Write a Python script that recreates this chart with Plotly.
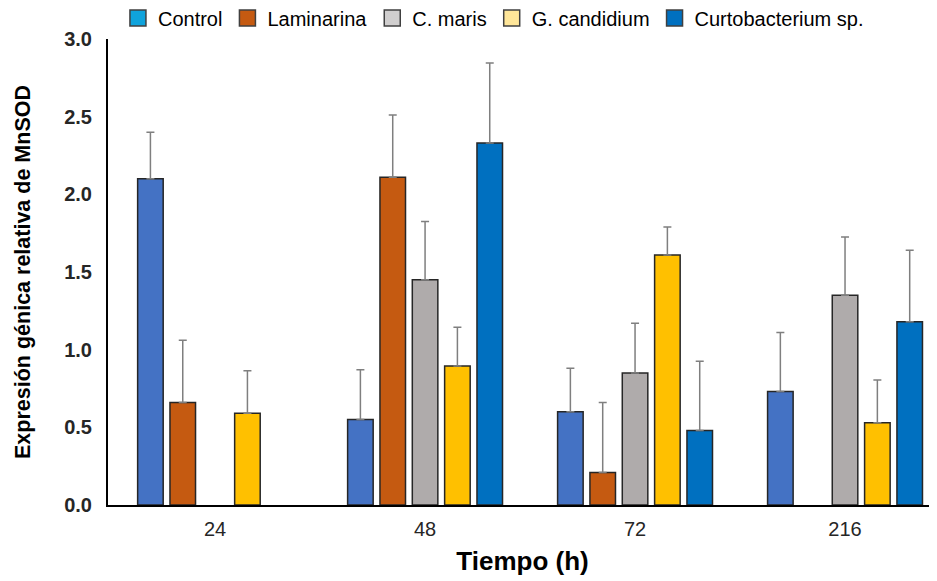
import plotly.graph_objects as go

categories = ["24", "48", "72", "216"]
series_names = ["Control", "Laminarina", "C. maris", "G. candidium", "Curtobacterium sp."]
control = [2.10, 0.55, 0.60, 0.73]
laminarina = [0.66, 2.11, 0.21, None]
c_maris = [None, 1.45, 0.85, 1.35]
g_candidium = [0.59, 0.895, 1.61, 0.53]
curtobacterium = [None, 2.33, 0.48, 1.18]
control_err = [0.30, 0.32, 0.28, 0.38]
laminarina_err = [0.40, 0.40, 0.45, None]
c_maris_err = [None, 0.375, 0.32, 0.375]
g_candidium_err = [0.275, 0.25, 0.18, 0.275]
curtobacterium_err = [None, 0.515, 0.445, 0.46]

values = [control, laminarina, c_maris, g_candidium, curtobacterium]
errors = [control_err, laminarina_err, c_maris_err, g_candidium_err, curtobacterium_err]
bar_colors = ["#4472C4", "#C55A11", "#AFABAB", "#FFC000", "#0070C0"]
legend_colors = ["#0FA3DC", "#C55A11", "#D0CECE", "#FFE699", "#0070C0"]

fig = go.Figure()
for name, vals, errs, col in zip(series_names, values, errors, bar_colors):
    fig.add_trace(go.Bar(
        x=categories, y=vals, name=name, showlegend=False,
        marker=dict(color=col, line=dict(color="#262626", width=1.5)),
        error_y=dict(type="data", symmetric=False,
                     array=[e if e is not None else 0 for e in errs],
                     arrayminus=[0] * len(errs),
                     color="#7F7F7F", thickness=1.5, width=4),
    ))
# legend entries (the reference legend uses its own swatch colours)
for name, col in zip(series_names, legend_colors):
    fig.add_trace(go.Scatter(
        x=[None], y=[None], mode="markers", name=name, showlegend=True,
        marker=dict(symbol="square", size=16, color=col,
                    line=dict(color="#404040", width=1.5)),
    ))

# page has an 8px body margin, so the figure is 8px smaller than the window
fig.update_layout(
    width=929, height=573,
    margin=dict(l=100, r=0, t=31, b=76, autoexpand=False),
    paper_bgcolor="white", plot_bgcolor="white",
    barmode="group", bargap=0.23, bargroupgap=0.21,
    font=dict(family="Liberation Sans, Arial, sans-serif", color="#000000"),
    legend=dict(orientation="h", x=0.012, xanchor="left", y=1.045, yanchor="middle",
                font=dict(size=20, color="#000000"), itemwidth=30,
                itemsizing="trace", tracegroupgap=0, bgcolor="rgba(0,0,0,0)"),
    xaxis=dict(type="category", range=[-0.51, 3.438], showline=True,
               linecolor="#000000", linewidth=2, ticks="", showgrid=False,
               automargin=False, ticklabelstandoff=5,
               tickfont=dict(size=20, color="#262626"),
               title=dict(text="<b>Tiempo (h)</b>", font=dict(size=26), standoff=13)),
    yaxis=dict(range=[0, 3.0], dtick=0.5, tickformat=".1f", showline=True,
               linecolor="#000000", linewidth=2, ticks="", showgrid=False,
               zeroline=False, automargin=False, ticklabelstandoff=10,
               tickfont=dict(size=20, color="#262626"),
               tickprefix="<b>", ticksuffix="</b>",
               title=dict(text="<b>Expresión génica relativa de MnSOD</b>",
                          font=dict(size=21.5), standoff=28)),
)

fig.write_html("out.html")
